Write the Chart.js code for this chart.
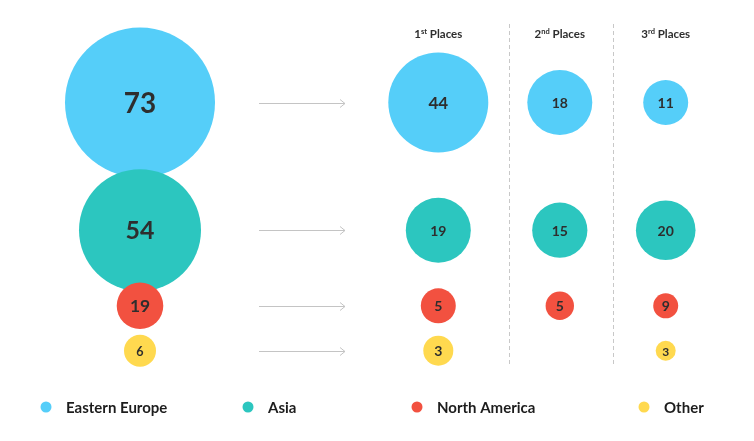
<!DOCTYPE html>
<html>
<head>
<meta charset="utf-8">
<script src="https://cdn.jsdelivr.net/npm/chart.js@4.4.1/dist/chart.umd.min.js"></script>
<style>
  html, body { margin: 0; padding: 0; background: #fff; }
  #wrap { position: relative; width: 754px; height: 441px; }
</style>
</head>
<body>
<div id="wrap"><canvas id="chart"></canvas></div>
<script>
// --- data ---
const regions = ['Eastern Europe', 'Asia', 'North America', 'Other'];
const columns = ['Total', '1st Places', '2nd Places', '3rd Places'];
const totals = [73, 54, 19, 6];
const firstPlaces = [44, 19, 5, 3];
const secondPlaces = [18, 15, 5, null];
const thirdPlaces = [11, 20, 9, 3];

// --- layout / styling (axis units = px of the 754x441 frame) ---
const colors = ['#55cef9', '#2cc6bf', '#f25140', '#ffd94f'];
const colX = [140, 438.3, 559.8, 665.7];
const rowY = [102.5, 230.2, 305.8, 350.7];
const sepX = [508.5, 612.5];
const legendX = [46, 248, 417, 644];
const radii = [
  [75, 50, 32.5, 22.5],
  [61, 32.5, 27.6, 29.8],
  [23.3, 17.5, 14.2, 12.5],
  [16, 15, 0, 10]
];
const FONT = 'Lato, "DejaVu Sans", sans-serif';

const byColumn = [totals, firstPlaces, secondPlaces, thirdPlaces];

const datasets = regions.map((name, r) => ({
  label: name,
  data: byColumn
    .map((vals, c) => ({ x: colX[c], y: rowY[r], v: vals[r], col: c }))
    .filter(p => p.v != null),
  backgroundColor: colors[r],
  borderWidth: 0,
  radius: ctx => radii[r][ctx.raw ? ctx.raw.col : 0],
  hoverRadius: 0,
  order: regions.length - r
}));

function labelFont(p, rad) {
  if (p.col === 0) return 6.5 + 2.5 * Math.sqrt(p.v);
  if (rad >= 45) return 17;
  if (rad <= 11) return 12;
  return 14;
}

const decor = {
  id: 'decor',
  beforeDatasetsDraw(chart) {
    const { ctx, scales: { x, y } } = chart;
    ctx.save();
    // arrows
    ctx.strokeStyle = '#c4c4c4';
    ctx.lineWidth = 1;
    rowY.forEach(v => {
      const py = Math.round(y.getPixelForValue(v)) + 0.5;
      const x0 = x.getPixelForValue(259), x1 = x.getPixelForValue(345);
      ctx.beginPath();
      ctx.moveTo(x0, py); ctx.lineTo(x1, py);
      ctx.moveTo(x1 - 5, py - 4); ctx.lineTo(x1, py); ctx.lineTo(x1 - 5, py + 4);
      ctx.stroke();
    });
    // dashed separators
    ctx.strokeStyle = '#c8c8c8';
    ctx.setLineDash([4, 3]);
    sepX.forEach(v => {
      const px = Math.round(x.getPixelForValue(v)) + 0.5;
      ctx.beginPath();
      ctx.moveTo(px, y.getPixelForValue(24));
      ctx.lineTo(px, y.getPixelForValue(364));
      ctx.stroke();
    });
    ctx.setLineDash([]);
    // column headers with superscript ordinals
    ctx.fillStyle = '#2e2e2e';
    ctx.textBaseline = 'alphabetic';
    ctx.textAlign = 'left';
    columns.slice(1).forEach((label, i) => {
      const m = label.match(/^(\d+)(st|nd|rd|th)(.*)$/);
      const big = 'bold 11.5px ' + FONT, small = 'bold 7.5px ' + FONT;
      ctx.font = big; const w1 = ctx.measureText(m[1]).width, w3 = ctx.measureText(m[3]).width;
      ctx.font = small; const w2 = ctx.measureText(m[2]).width;
      let px = x.getPixelForValue(colX[i + 1]) - (w1 + w2 + w3) / 2;
      const base = y.getPixelForValue(38);
      ctx.font = big; ctx.fillText(m[1], px, base); px += w1;
      ctx.font = small; ctx.fillText(m[2], px, base - 4); px += w2;
      ctx.font = big; ctx.fillText(m[3], px, base);
    });
    ctx.restore();
  },
  afterDatasetsDraw(chart) {
    const { ctx } = chart;
    ctx.save();
    ctx.fillStyle = '#2e2e2e';
    ctx.textAlign = 'center';
    ctx.textBaseline = 'middle';
    chart.data.datasets.forEach((ds, i) => {
      chart.getDatasetMeta(i).data.forEach((el, j) => {
        const p = ds.data[j];
        const f = labelFont(p, el.options.radius);
        ctx.font = 'bold ' + f.toFixed(1) + 'px ' + FONT;
        ctx.fillText(String(p.v), el.x, el.y + 1);
      });
    });
    // legend
    const ly = chart.scales.y.getPixelForValue(407);
    ctx.textAlign = 'left';
    ctx.font = 'bold 15px ' + FONT;
    regions.forEach((name, r) => {
      const lx = chart.scales.x.getPixelForValue(legendX[r]);
      ctx.fillStyle = colors[r];
      ctx.beginPath();
      ctx.arc(lx, ly, 5.5, 0, Math.PI * 2);
      ctx.fill();
      ctx.fillStyle = '#1d1d1d';
      ctx.fillText(name, lx + 20, ly + 1);
    });
    ctx.restore();
  }
};

new Chart(document.getElementById('chart'), {
  type: 'bubble',
  data: { datasets },
  options: {
    responsive: true,
    maintainAspectRatio: false,
    animation: false,
    events: [],
    layout: { padding: 0, autoPadding: false },
    plugins: { legend: { display: false }, tooltip: { enabled: false } },
    scales: {
      x: { type: 'linear', min: 0, max: 754, display: false },
      y: { type: 'linear', min: 0, max: 441, reverse: true, display: false }
    }
  },
  plugins: [decor]
});
</script>
</body>
</html>
